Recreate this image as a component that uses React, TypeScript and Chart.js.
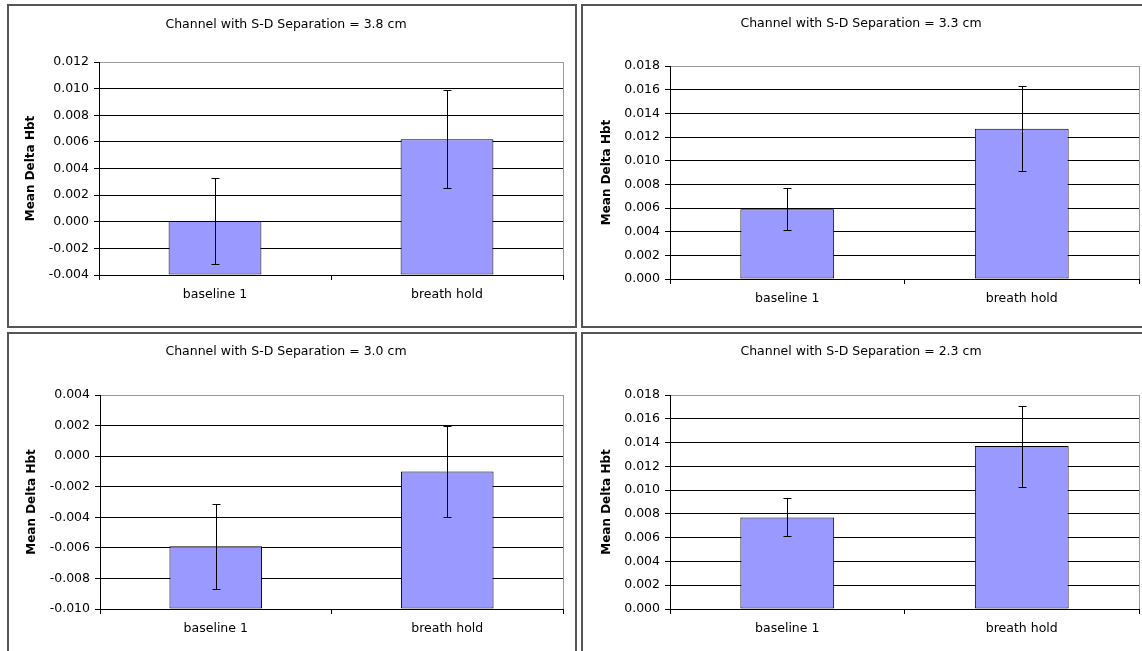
import React, { useEffect, useRef } from "react";
import { Chart, registerables } from "chart.js";

Chart.register(...registerables);

// ---------- data ----------
const categories = ["baseline 1", "breath hold"];
const yAxisTitle = "Mean Delta Hbt";
const yStep = 0.002;

const title38 = "Channel with S-D Separation = 3.8 cm";
const means38 = [0.00005, 0.0062];
const errors38 = [0.0032, 0.0037];
const yMin38 = -0.004;
const yMax38 = 0.012;

const title33 = "Channel with S-D Separation = 3.3 cm";
const means33 = [0.0059, 0.0127];
const errors33 = [0.0018, 0.0036];
const yMin33 = 0.0;
const yMax33 = 0.018;

const title30 = "Channel with S-D Separation = 3.0 cm";
const means30 = [-0.0059, -0.001];
const errors30 = [0.0028, 0.003];
const yMin30 = -0.01;
const yMax30 = 0.004;

const title23 = "Channel with S-D Separation = 2.3 cm";
const means23 = [0.0077, 0.0137];
const errors23 = [0.0016, 0.0034];
const yMin23 = 0.0;
const yMax23 = 0.018;

// ---------- styling / layout ----------
const FONT = "'DejaVu Sans', 'Verdana', sans-serif";
const BAR_FILL = "#9999FF";
const BOX_W = 570;
const BOX_H = 324;
const BORDER = 2;
const CW = BOX_W - 2 * BORDER;
const CH = BOX_H - 2 * BORDER;

const errorBarsPlugin = {
  id: "errorBars",
  afterDatasetsDraw(chart: any, _args: any, opts: any) {
    const errs: number[] = opts && opts.errors;
    if (!errs) return;
    const meta = chart.getDatasetMeta(0);
    const yScale = chart.scales.y;
    const data = chart.data.datasets[0].data as number[];
    const ctx = chart.ctx;
    ctx.save();
    ctx.strokeStyle = "#000";
    ctx.lineWidth = 1;
    meta.data.forEach((bar: any, i: number) => {
      const v = data[i];
      const x = Math.round(bar.x) + 0.5;
      const yTop = Math.round(yScale.getPixelForValue(v + errs[i])) + 0.5;
      const yBot = Math.round(yScale.getPixelForValue(v - errs[i])) + 0.5;
      ctx.beginPath();
      ctx.moveTo(x, yTop);
      ctx.lineTo(x, yBot);
      ctx.moveTo(x - 4, yTop);
      ctx.lineTo(x + 4, yTop);
      ctx.moveTo(x - 4, yBot);
      ctx.lineTo(x + 4, yBot);
      ctx.stroke();
    });
    ctx.restore();
  },
};

const plotBorderPlugin = {
  id: "plotBorder",
  beforeDatasetsDraw(chart: any) {
    const { ctx, chartArea } = chart;
    ctx.save();
    ctx.strokeStyle = "#9a9a9a";
    ctx.lineWidth = 1;
    const x = Math.round(chartArea.right) + 0.5;
    ctx.beginPath();
    ctx.moveTo(x, chartArea.top);
    ctx.lineTo(x, chartArea.bottom);
    ctx.stroke();
    ctx.restore();
  },
};

type PanelProps = {
  left: number;
  top: number;
  title: string;
  means: number[];
  errors: number[];
  yMin: number;
  yMax: number;
  plot: { left: number; right: number; top: number; bottom: number };
  titleY: number;
  yTitleX: number;
};

function Panel(p: PanelProps) {
  const ref = useRef<HTMLCanvasElement | null>(null);
  useEffect(() => {
    if (!ref.current) return;
    const titleFont = { family: FONT, size: 12.5, weight: "normal" as const, lineHeight: 1.2 };
    const tickFont = { family: FONT, size: 12.5, lineHeight: 1.2 };
    const yTitleFont = { family: FONT, size: 12, weight: "bold" as const, lineHeight: 1.2 };
    const chart = new Chart(ref.current, {
      type: "bar",
      data: {
        labels: categories,
        datasets: [
          {
            data: p.means,
            base: p.yMin,
            backgroundColor: BAR_FILL,
            borderColor: "#000",
            borderWidth: 1,
            borderSkipped: false,
            barPercentage: 0.4,
            categoryPercentage: 1,
          } as any,
        ],
      },
      options: {
        animation: false,
        responsive: false,
        maintainAspectRatio: false,
        layout: { padding: { left: 0, right: CW - p.plot.right, top: 0, bottom: 0 } },
        plugins: {
          legend: { display: false },
          tooltip: { enabled: false },
          title: {
            display: true,
            text: p.title,
            color: "#000",
            font: titleFont,
            padding: { top: p.titleY - 7.5, bottom: p.plot.top - p.titleY - 7.5 },
          },
          errorBars: { errors: p.errors },
        } as any,
        scales: {
          x: {
            type: "category",
            offset: true,
            grid: {
              display: true,
              offset: true,
              drawOnChartArea: false,
              drawTicks: true,
              tickLength: 5,
              color: "#000",
              tickColor: "#000",
            },
            border: { display: true, color: "#000", width: 1 },
            ticks: { color: "#000", font: tickFont, padding: 7, maxRotation: 0, autoSkip: false },
            afterFit: (s: any) => {
              s.height = CH - p.plot.bottom;
            },
          },
          y: {
            min: p.yMin,
            max: p.yMax,
            ticks: {
              stepSize: yStep,
              color: "#000",
              font: tickFont,
              padding: 5,
              callback: (v: any) => Number(v).toFixed(3),
            },
            grid: {
              drawTicks: true,
              tickLength: 5,
              tickColor: "#000",
              color: (c: any) =>
                c.tick && Math.abs(c.tick.value - p.yMax) < 1e-9 ? "#9a9a9a" : "#000",
            },
            border: { display: true, color: "#000", width: 1 },
            title: {
              display: true,
              text: yAxisTitle,
              color: "#000",
              font: yTitleFont,
              padding: { top: p.yTitleX - 7.2, bottom: 0 },
            },
            afterFit: (s: any) => {
              s.width = p.plot.left;
            },
          },
        },
      } as any,
      plugins: [errorBarsPlugin, plotBorderPlugin],
    });
    return () => chart.destroy();
  }, []);

  return (
    <div
      style={{
        position: "absolute",
        left: p.left,
        top: p.top,
        width: BOX_W,
        height: BOX_H,
        boxSizing: "border-box",
        border: `${BORDER}px solid #555`,
        background: "#fff",
      }}
    >
      <canvas ref={ref} width={CW} height={CH} style={{ display: "block" }} />
    </div>
  );
}

export default function App() {
  return (
    <div
      style={{
        position: "absolute",
        left: 0,
        top: 0,
        width: 1142,
        height: 651,
        overflow: "hidden",
        background: "#fff",
      }}
    >
      <Panel
        left={7}
        top={4}
        title={title38}
        means={means38}
        errors={errors38}
        yMin={yMin38}
        yMax={yMax38}
        plot={{ left: 90, right: 554, top: 56, bottom: 269 }}
        titleY={19}
        yTitleX={22}
      />
      <Panel
        left={581}
        top={4}
        title={title33}
        means={means33}
        errors={errors33}
        yMin={yMin33}
        yMax={yMax33}
        plot={{ left: 87, right: 556, top: 60, bottom: 273 }}
        titleY={18}
        yTitleX={24}
      />
      <Panel
        left={7}
        top={332}
        title={title30}
        means={means30}
        errors={errors30}
        yMin={yMin30}
        yMax={yMax30}
        plot={{ left: 91, right: 554, top: 61, bottom: 275 }}
        titleY={18}
        yTitleX={23}
      />
      <Panel
        left={581}
        top={332}
        title={title23}
        means={means23}
        errors={errors23}
        yMin={yMin23}
        yMax={yMax23}
        plot={{ left: 87, right: 556, top: 61, bottom: 275 }}
        titleY={18}
        yTitleX={24}
      />
    </div>
  );
}
